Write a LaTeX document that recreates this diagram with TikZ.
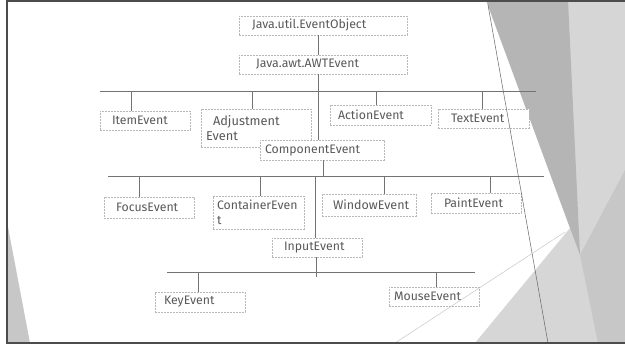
\documentclass[tikz,border=0pt]{standalone}
\usepackage{fontspec}
\setmainfont{Fira Sans}
\begin{document}
\begin{tikzpicture}[x=1pt,y=-1pt,
  bx/.style={draw=black!28, dash pattern=on 2pt off 1pt, line width=0.5pt, fill=white,
    inner ysep=0pt, align=left, text=black!65, font=\fontsize{12.3}{15}\selectfont},
  ln/.style={draw=black!55, line width=0.6pt},
  frame/.style={draw=black!70, line width=1.6pt}]
\useasboundingbox (0,0) rectangle (625,353);
\fill[white] (0,0) rectangle (625,353);
% background decorations
\fill[black!16] (486,0) -- (625,0) -- (625,343) -- (475,343) -- (570,228) -- cycle;
\fill[black!29] (486,0) -- (568,0) -- (580,255) -- cycle;
\fill[black!22] (580,255) -- (625,170) -- (625,343) -- (598,343) -- cycle;
\fill[black!22] (8,227) -- (8,343) -- (30,343) -- cycle;
% boxes
\node[bx, text width=142pt, inner xsep=13pt, minimum height=19pt] (obj) at (323,25.5) {Java.util.EventObject};
\node[bx, text width=134pt, inner xsep=17pt, minimum height=19pt] (awt) at (323,64.5) {Java.awt.AWTEvent};
\node[bx, text width=66pt, inner xsep=12pt, minimum height=19pt] (item) at (145,120.5) {ItemEvent};
\node[bx, text width=100pt, inner xsep=5pt, minimum height=38pt, font=\fontsize{12.8}{15}\selectfont] (adj) at (256,128) {\hspace*{7pt}Adjustment\\Event};
\node[bx, text width=85pt, inner xsep=8pt, minimum height=20pt] (action) at (380.5,115) {ActionEvent};
\node[bx, text width=65pt, inner xsep=13pt, minimum height=19pt] (textev) at (483.5,118.5) {TextEvent};
\node[bx, text width=114pt, inner xsep=5pt, minimum height=20pt] (comp) at (322,150) {ComponentEvent};
\node[bx, text width=66pt, inner xsep=12pt, minimum height=21pt] (focus) at (149,207.5) {FocusEvent};
\node[bx, text width=83pt, inner xsep=4pt, minimum height=33pt] (cont) at (258.5,212.5) {ContainerEven\\t};
\node[bx, text width=72pt, inner xsep=11pt, minimum height=22pt, font=\fontsize{12.5}{15}\selectfont] (window) at (369,205) {WindowEvent};
\node[bx, text width=64pt, inner xsep=13pt, minimum height=20pt] (paint) at (476,203) {PaintEvent};
\node[bx, text width=66pt, inner xsep=12pt, minimum height=19pt] (input) at (317,247.5) {InputEvent};
\node[bx, text width=72pt, inner xsep=9pt, minimum height=20pt] (key) at (200,302) {KeyEvent};
\node[bx, text width=80pt, inner xsep=5pt, minimum height=19pt] (mouse) at (434,296.5) {MouseEvent};
% bus coordinates
\coordinate (b1L) at (100,91); \coordinate (b1R) at (536,91);
\coordinate (b2L) at (108,176); \coordinate (b2R) at (544,176);
\coordinate (b3L) at (167,272); \coordinate (b3R) at (475,272);
\coordinate (t1) at (318,0);
\coordinate (t2) at (323,176);
\coordinate (t3) at (315,176);
\coordinate (t4) at (316,277);
\coordinate (d1) at (131,91); \coordinate (d2) at (252,91);
\coordinate (d3) at (376,91); \coordinate (d4) at (482,91);
\coordinate (e1) at (139,176); \coordinate (e2) at (260,176);
\coordinate (e3) at (384,176); \coordinate (e4) at (490,176);
\coordinate (f1) at (198,272); \coordinate (f2) at (436,272);
% connectors
\draw[ln] (t1 |- obj.south) -- (t1 |- awt.north);
\draw[ln] (t1 |- awt.south) -- (t1 |- comp.north);
\draw[ln] (b1L) -- (b1R);
\draw[ln] (d1) -- (d1 |- item.north);
\draw[ln] (d2) -- (d2 |- adj.north);
\draw[ln] (d3) -- (d3 |- action.north);
\draw[ln] (d4) -- (d4 |- textev.north);
\draw[ln] (t2 |- comp.south) -- (t2);
\draw[ln] (b2L) -- (b2R);
\draw[ln] (e1) -- (e1 |- focus.north);
\draw[ln] (e2) -- (e2 |- cont.north);
\draw[ln] (e3) -- (e3 |- window.north);
\draw[ln] (e4) -- (e4 |- paint.north);
\draw[ln] (t3) -- (t3 |- input.north);
\draw[ln] (t4 |- input.south) -- (t4);
\draw[ln] (b3L) -- (b3R);
\draw[ln] (f1) -- (f1 |- key.north);
\draw[ln] (f2) -- (f2 |- mouse.north);
% overlay lines of the slide theme
\draw[black!60, line width=0.5pt] (488,5) -- (548,343);
\draw[black!25, line width=0.4pt] (395,343) -- (565,232);
% frame
\draw[frame] (7,0) -- (7,343) -- (625,343);
\draw[frame] (7,0.8) -- (625,0.8);
\end{tikzpicture}
\end{document}
